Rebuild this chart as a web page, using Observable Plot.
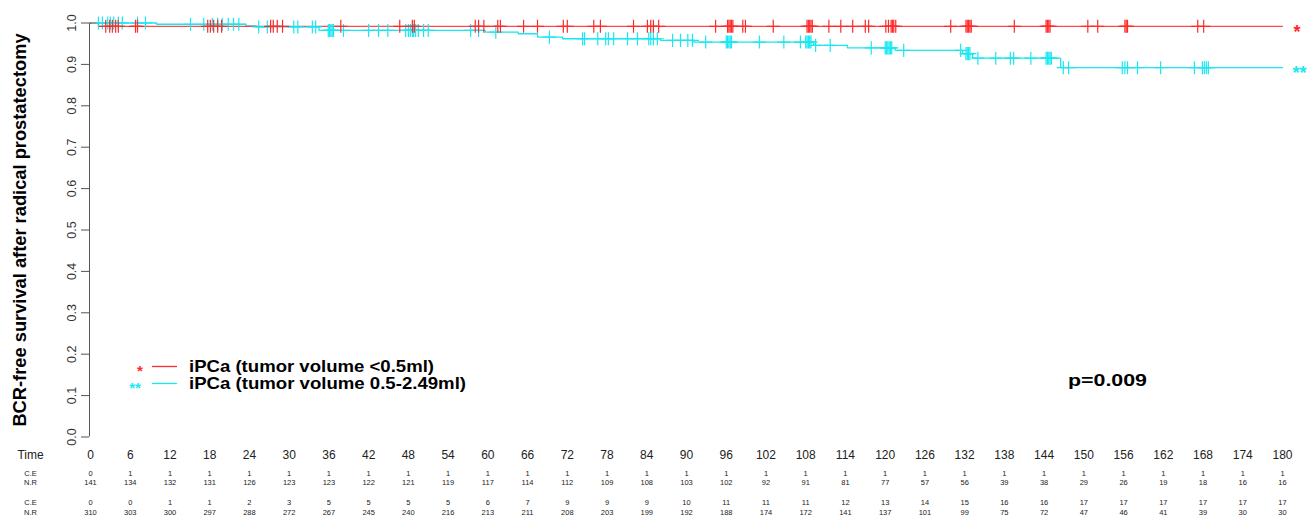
<!DOCTYPE html>
<html>
<head>
<meta charset="utf-8">
<script src="https://cdn.jsdelivr.net/npm/d3@7"></script>
<script src="https://cdn.jsdelivr.net/npm/@observablehq/plot@0.6"></script>
<style>
  body { margin: 0; background: #fff; }
  #wrap { position: relative; width: 1309px; height: 523px; font-family: "Liberation Sans", Arial, sans-serif; }
  #overlay { position: absolute; left: 0; top: 0; pointer-events: none; }
</style>
</head>
<body>
<div id="wrap">
  <div id="chart"></div>
  <svg id="overlay" width="1309" height="523"></svg>
</div>
<script>
// ---- Data ----
const timeTicks = [0,6,12,18,24,30,36,42,48,54,60,66,72,78,84,90,96,102,108,114,120,126,132,138,144,150,156,162,168,174,180];
const redCE  = [0,1,1,1,1,1,1,1,1,1,1,1,1,1,1,1,1,1,1,1,1,1,1,1,1,1,1,1,1,1,1];
const redNR  = [141,134,132,131,126,123,123,122,121,119,117,114,112,109,108,103,102,92,91,81,77,57,56,39,38,29,26,19,18,16,16];
const cyanCE = [0,0,1,1,2,3,5,5,5,5,6,7,9,9,9,10,11,11,11,12,13,14,15,16,16,17,17,17,17,17,17];
const cyanNR = [310,303,300,297,288,272,267,245,240,216,213,211,208,203,199,192,188,174,172,141,137,101,99,75,72,47,46,41,39,30,30];
const yTicks = [0,0.1,0.2,0.3,0.4,0.5,0.6,0.7,0.8,0.9,1.0];

// Kaplan-Meier step points (month, survival)
const redStepTime = [0, 1.2];
const redStepSurv = [1.0, 0.992];
const cyanStepTime = [0, 10, 23.5, 25, 34.5, 59.6, 64.6, 67.5, 71.3, 86.1, 91.1, 109.2, 114.3, 121.5, 131.7, 133.2, 146.5];
const cyanStepSurv = [1.0, 0.997, 0.993, 0.9905, 0.982, 0.978, 0.974, 0.966, 0.962, 0.958, 0.954, 0.946, 0.940, 0.934, 0.926, 0.915, 0.892];
const maxTime = 180;

// censoring times (months)
const redCensor = [2.3,2.9,3.3,3.8,4.2,6.8,7.1,17.7,18.1,18.6,19.2,19.8,27.2,27.6,28.2,29.0,37.8,46.7,48.6,48.9,58.1,58.6,59.4,61.5,61.9,65.4,67.5,71.4,72.0,76.0,77.0,82.0,84.1,84.6,85.0,85.8,94.4,96.2,96.4,96.6,96.8,97.0,98.5,98.9,103.1,108.2,108.4,108.6,108.8,109.0,111.5,113.3,115.1,117.0,117.5,120.1,120.5,120.9,121.1,121.3,121.6,129.9,132.2,132.4,132.6,132.8,133.0,139.5,144.3,144.5,144.7,144.9,150.6,152.1,156.2,156.4,156.6,167.2,168.1];
const cyanCensor = [1.2,1.8,2.6,3.0,3.5,4.2,4.8,7.1,8.3,15.1,17.1,18.4,19.2,19.9,20.8,21.6,22.4,25.4,26.7,30.7,31.3,33.5,34.0,35.9,36.1,36.3,36.5,36.7,38.2,42.0,43.5,44.9,47.6,48.0,48.3,48.6,48.8,49.1,49.5,50.3,51.0,57.4,58.6,61.2,69.3,74.3,74.6,76.6,77.8,78.2,79.0,81.1,82.6,84.3,84.6,85.0,85.6,87.9,89.1,90.2,90.9,92.9,96.0,96.2,96.4,96.6,96.8,101.0,104.7,107.2,108.0,108.2,108.4,108.6,108.8,109.5,111.7,117.9,120.0,120.2,120.4,120.6,120.8,121.0,122.8,131.4,132.2,132.4,132.6,132.8,134.0,136.7,138.9,139.4,142.0,144.3,144.5,144.7,144.9,145.1,146.9,147.7,155.8,156.2,156.6,158.1,161.6,166.7,167.9,168.2,168.5,168.8];

const yLabel = "BCR-free survival after radical prostatectomy";
const legendLabels = ["iPCa (tumor volume <0.5ml)", "iPCa (tumor volume 0.5-2.49ml)"];
const pText = "p=0.009";

const RED = "#ff2a2a";
const CYAN = "#19e8f2";

// ---- Helpers ----
function stepLine(ts, ss) {
  const pts = ts.map((t, i) => ({t, s: ss[i]}));
  pts.push({t: maxTime, s: ss[ss.length - 1]});
  return pts;
}
function survAt(ts, ss, t) {
  let s = ss[0];
  for (let i = 0; i < ts.length; i++) if (ts[i] <= t) s = ss[i];
  return s;
}
const redLine = stepLine(redStepTime, redStepSurv);
const cyanLine = stepLine(cyanStepTime, cyanStepSurv);
const redMarks = redCensor.map(t => ({t, s: survAt(redStepTime, redStepSurv, t)}));
const cyanMarks = cyanCensor.map(t => ({t, s: survAt(cyanStepTime, cyanStepSurv, t)}));

const tableRows = [
  {name: "Time", vals: timeTicks, dy: 21.5, size: 12},
  {name: "C.E", vals: redCE, dy: 38.5, size: 7.5},
  {name: "N.R", vals: redNR, dy: 47.5, size: 7.5},
  {name: "C.E", vals: cyanCE, dy: 67.5, size: 7.5},
  {name: "N.R", vals: cyanNR, dy: 77.5, size: 7.5}
];

const marks = [
  Plot.ruleX([0], {y1: 0, y2: 1, stroke: "#555", dx: -1}),
  Plot.axisY({ticks: yTicks, tickSize: 8, tickFormat: () => "", stroke: "#555", dx: -1, label: null}),
  Plot.text(yTicks, {y: d => d, text: d => d.toFixed(1), frameAnchor: "left", dx: -19, rotate: -90, fontSize: 12.5, fill: "#333", textAnchor: "middle"}),
  Plot.text([yLabel], {text: d => d, frameAnchor: "left", dx: -70, rotate: -90, fontSize: 18.3, fontWeight: "bold", fill: "#000", textAnchor: "middle"}),
  Plot.line(cyanLine, {x: "t", y: "s", curve: "step-after", stroke: CYAN, strokeWidth: 1.3}),
  Plot.line(redLine, {x: "t", y: "s", curve: "step-after", stroke: RED, strokeWidth: 1.3, strokeOpacity: 0.85}),
  Plot.dot(cyanMarks, {x: "t", y: "s", symbol: "plus", r: 4.3, stroke: CYAN, strokeWidth: 1.2}),
  Plot.dot(redMarks, {x: "t", y: "s", symbol: "plus", r: 4.3, stroke: RED, strokeWidth: 1.2}),
  Plot.text([redLine[redLine.length - 1]], {x: "t", y: "s", text: () => "*", dx: 11, dy: 6, textAnchor: "start", fontSize: 18, fontWeight: "bold", fill: RED}),
  Plot.text([cyanLine[cyanLine.length - 1]], {x: "t", y: "s", text: () => "**", dx: 10, dy: 6, textAnchor: "start", fontSize: 18, fontWeight: "bold", fill: CYAN})
];
for (const row of tableRows) {
  marks.push(Plot.text(row.vals, {x: (d, i) => timeTicks[i], text: d => String(d), frameAnchor: "bottom", dy: row.dy, fontSize: row.size, fill: "#222"}));
  marks.push(Plot.text([row.name], {text: d => d, frameAnchor: "bottom-left", dx: -60, dy: row.dy, fontSize: row.size, fill: "#222", textAnchor: "middle"}));
}

const chart = Plot.plot({
  width: 1309,
  height: 523,
  marginLeft: 90,
  marginRight: 27,
  marginTop: 22.5,
  marginBottom: 86.5,
  style: {fontFamily: "'Liberation Sans', Arial, sans-serif", background: "#fff", overflow: "visible"},
  x: {domain: [0, 180], axis: null},
  y: {domain: [0, 1], axis: null},
  marks
});
document.getElementById("chart").appendChild(chart);

// ---- Legend & p-value overlay ----
const ov = d3.select("#overlay");
const legend = [
  {sym: "*", color: RED, label: legendLabels[0], y: 366.5, symX: 140, symBase: 375.5, len: 245},
  {sym: "**", color: CYAN, label: legendLabels[1], y: 383.5, symX: 135, symBase: 393, len: 277}
];
for (const l of legend) {
  ov.append("text").attr("x", l.symX).attr("y", l.symBase).attr("text-anchor", "middle")
    .attr("font-size", 15).attr("font-weight", "bold").attr("fill", l.color)
    .attr("font-family", "'Liberation Sans', Arial, sans-serif").text(l.sym);
  ov.append("line").attr("x1", 152).attr("x2", 177).attr("y1", l.y).attr("y2", l.y)
    .attr("stroke", l.color).attr("stroke-width", 1.3);
  ov.append("text").attr("x", 189).attr("y", l.y).attr("dy", "0.35em")
    .attr("font-size", 16.2).attr("font-weight", "bold").attr("fill", "#000")
    .attr("textLength", l.len).attr("lengthAdjust", "spacingAndGlyphs")
    .attr("font-family", "'Liberation Sans', Arial, sans-serif").text(l.label);
}
ov.append("text").attr("x", 1068).attr("y", 380).attr("dy", "0.35em")
  .attr("font-size", 17).attr("font-weight", "bold").attr("fill", "#000")
  .attr("textLength", 79).attr("lengthAdjust", "spacingAndGlyphs")
  .attr("font-family", "'Liberation Sans', Arial, sans-serif").text(pText);
</script>
</body>
</html>
